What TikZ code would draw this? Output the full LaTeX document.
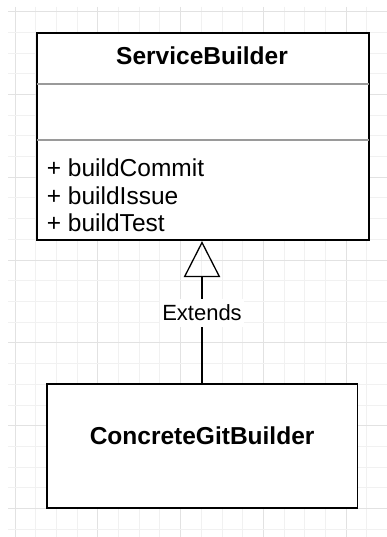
\documentclass[tikz,border=0pt]{standalone}
\usepackage{fontspec}
\setmainfont{Liberation Sans}
\usetikzlibrary{arrows.meta}

\definecolor{gridminor}{HTML}{F1F1F1}
\definecolor{gridmajor}{HTML}{E2E2E2}
\definecolor{sepline}{HTML}{9A9A9A}

\tikzset{
  classbox/.style={draw=black, line width=1.8pt, fill=white, inner sep=0pt},
  classname/.style={font=\fontsize{24.5}{27.5}\selectfont\bfseries, inner sep=0pt, anchor=base},
  member/.style={font=\fontsize{24.5}{27.5}\selectfont, inner sep=0pt, anchor=base west},
  separator/.style={draw=sepline, line width=1.1pt},
  extends/.style={draw=black, line width=1.3pt,
    -{Triangle[open, length=36pt, width=36.4pt, line width=1.3pt]}},
  edgelabel/.style={font=\fontsize{22}{26}\selectfont, fill=white,
    inner xsep=2pt, inner ysep=6pt},
}

\begin{document}
\begin{tikzpicture}[x=1pt, y=-1pt]
  \useasboundingbox (0,0) rectangle (387,537);
  \fill[white] (0,0) rectangle (387,537);

  % background grid: minor every 20.7, major every fourth line
  \foreach \k in {0,...,17} {
    \pgfmathsetmacro{\gx}{15+20.7*\k}
    \pgfmathtruncatemacro{\ismajor}{mod(\k,4)==0 ? 1 : 0}
    \ifnum\ismajor=1
      \draw[gridmajor, line width=1pt] (\gx,7) -- (\gx,537);
    \else
      \draw[gridminor, line width=1pt] (\gx,7) -- (\gx,537);
    \fi
  }
  \foreach \k in {0,...,25} {
    \pgfmathsetmacro{\gy}{11.7+20.7*\k}
    \pgfmathtruncatemacro{\ismajor}{mod(\k,4)==0 ? 1 : 0}
    \ifnum\ismajor=1
      \draw[gridmajor, line width=1pt] (8,\gy) -- (387,\gy);
    \else
      \draw[gridminor, line width=1pt] (8,\gy) -- (387,\gy);
    \fi
  }

  % ServiceBuilder class
  \node[classbox, anchor=north west, minimum width=332pt, minimum height=207pt] (sb) at (36,32.3) {};
  \node[classname] (sbname) at (202,64.3) {ServiceBuilder};
  \coordinate (sepA) at (sb.west |- 0,84);
  \coordinate (sepB) at (sb.west |- 0,140);
  \draw[separator] ([xshift=1pt]sepA) -- ([xshift=-1pt]sepA -| sb.east);
  \draw[separator] ([xshift=1pt]sepB) -- ([xshift=-1pt]sepB -| sb.east);
  \node[member] (m1) at (46.7,176.7) {+ buildCommit};
  \node[member] (m2) at (46.7,204.3) {+ buildIssue};
  \node[member] (m3) at (46.7,231.7) {+ buildTest};

  % ConcreteGitBuilder class
  \node[classbox, minimum width=310.8pt, minimum height=123.7pt] (cgb) at (202.1,445.9) {};
  \node[classname] (cgbname) at (202.1,444.3) {ConcreteGitBuilder};

  % generalisation
  \draw[extends] (cgb.north -| sbname) -- node[edgelabel, pos=0.494] (ext) {Extends} (sb.south -| sbname);
\end{tikzpicture}
\end{document}
